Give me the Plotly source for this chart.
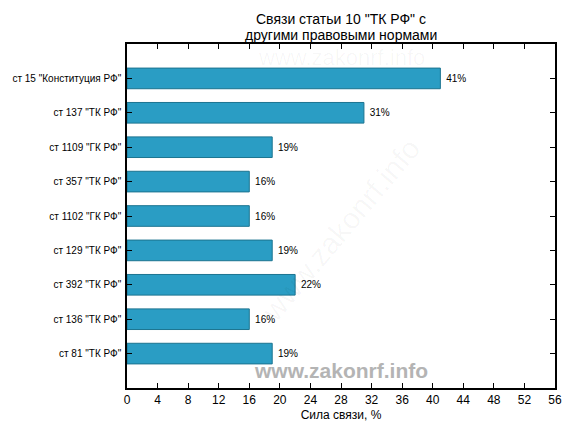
import plotly.graph_objects as go

categories = ['ст 15 "Конституция РФ"', 'ст 137 "ТК РФ"', 'ст 1109 "ГК РФ"', 'ст 357 "ТК РФ"',
              'ст 1102 "ГК РФ"', 'ст 129 "ТК РФ"', 'ст 392 "ТК РФ"', 'ст 136 "ТК РФ"', 'ст 81 "ТК РФ"']
values = [41, 31, 19, 16, 16, 19, 22, 16, 19]
labels = [f" {v}%" for v in values]
x_ticks = list(range(0, 57, 4))
title_lines = ['Связи статьи 10 "ТК РФ" с', 'другими правовыми нормами']

fig = go.Figure()
fig.add_trace(go.Bar(
    y=categories, x=values, orientation="h",
    marker=dict(color="#2a9dc4", line=dict(color="#1c7490", width=1)),
    width=0.6,
    text=labels, textposition="outside", cliponaxis=False,
    textfont=dict(size=10, color="black", family="Liberation Sans, Arial"),
))

# page body has an 8px margin, so the figure is sized/offset to compensate
fig.update_layout(
    width=568, height=424,
    margin=dict(l=119, r=21, t=36, b=44, autoexpand=False),
    paper_bgcolor="white", plot_bgcolor="white",
    font=dict(family="Liberation Sans, Arial", color="black"),
    showlegend=False,
)
fig.update_xaxes(
    range=[0, 56], tickvals=x_ticks, ticks="inside", ticklen=5, tickcolor="black",
    showline=True, linecolor="black", linewidth=1.5, mirror="allticks", showgrid=False,
    zeroline=False, tickfont=dict(size=12), automargin=False,
    title=dict(text="Сила связи, %", font=dict(size=12), standoff=4),
)
fig.update_yaxes(
    categoryorder="array", categoryarray=categories[::-1], range=[-1, 9],
    ticks="inside", ticklen=5, tickcolor="black", automargin=False,
    showline=True, linecolor="black", linewidth=1.5, mirror="allticks", showgrid=False,
    tickfont=dict(size=10), ticklabelstandoff=2,
)

# title as two lines (tighter line spacing)
for txt, yy in zip(title_lines, [1.074, 1.026]):
    fig.add_annotation(text=txt, xref="paper", yref="paper", x=0.5, y=yy,
                       xanchor="center", yanchor="middle", showarrow=False,
                       font=dict(size=14, color="black"))

# faint watermarks
fig.add_annotation(text="www.zakonrf.info", xref="paper", yref="paper", x=0.5, y=0.962,
                   xanchor="center", yanchor="middle",
                   showarrow=False, font=dict(size=22, color="rgba(0,0,0,0.035)"))
fig.add_annotation(text="www.zakonrf.info", xref="paper", yref="paper", x=0.5, y=0.46,
                   xanchor="center", yanchor="middle",
                   showarrow=False, textangle=-50, font=dict(size=30, color="rgba(0,0,0,0.035)"))
fig.add_annotation(text="<b>www.zakonrf.info</b>", xref="paper", yref="paper", x=0.5, y=0.052,
                   xanchor="center", yanchor="middle",
                   showarrow=False, font=dict(size=21, color="#b4b4b4"))

fig.write_html("out.html")
